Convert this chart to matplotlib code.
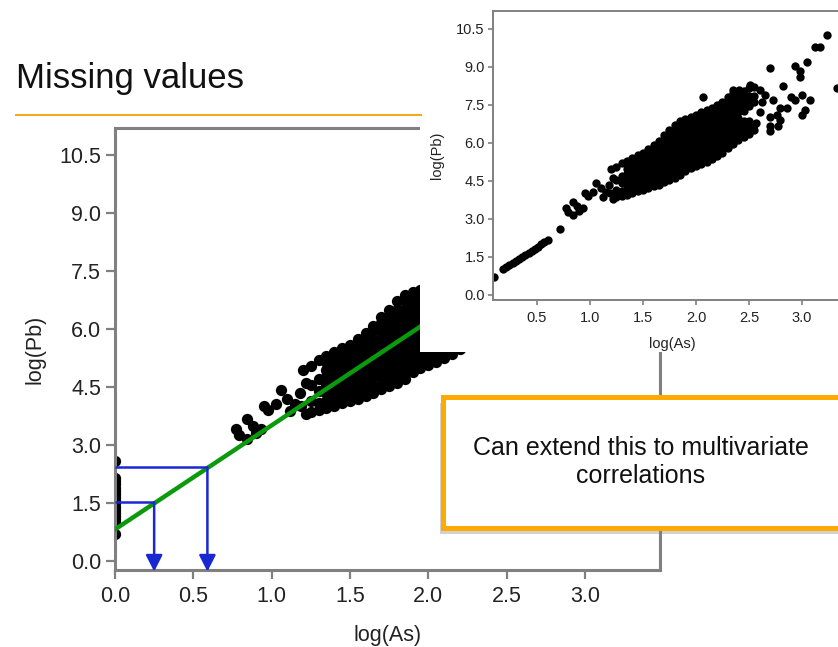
import numpy as np
import matplotlib.pyplot as plt
from matplotlib.patches import Rectangle
from matplotlib.lines import Line2D
import matplotlib.patheffects as pe

plt.rcParams['font.family'] = ['Liberation Sans', 'DejaVu Sans']

# points with low As (these are the ones treated as missing in the big panel)
low_as = [0.09, 0.18, 0.21, 0.24, 0.27, 0.30, 0.33, 0.36, 0.39, 0.42, 0.45,
          0.48, 0.51, 0.54, 0.57, 0.60, 0.72]
low_pb = [0.70, 1.00, 1.08, 1.16, 1.25, 1.33, 1.41, 1.49, 1.58, 1.66, 1.74,
          1.82, 1.90, 1.99, 2.07, 2.15, 2.60]

# small group between the low line and the main cloud
mid_as = [0.77, 0.79, 0.84, 0.84, 0.88, 0.93, 0.90, 0.95, 0.98, 1.03, 1.06,
          1.10, 1.12, 1.15, 1.19, 1.22, 1.18, 1.22, 1.20]
mid_pb = [3.42, 3.25, 3.67, 3.15, 3.50, 3.42, 3.30, 4.00, 3.90, 4.07, 4.42,
          4.20, 3.87, 4.05, 4.00, 3.80, 4.35, 4.60, 4.95]

# dense cloud: Pb values read per As column
cloud = {
    1.25: [3.85, 4.15, 4.55, 5.05],
    1.30: [3.90, 4.10, 4.40, 4.70, 5.20],
    1.35: [3.95, 4.15, 4.35, 4.55, 4.75, 4.95, 5.15, 5.30],
    1.40: [4.02, 4.12, 4.32, 4.52, 4.72, 4.92, 5.12, 5.32, 5.40],
    1.45: [4.08, 4.28, 4.48, 4.68, 4.88, 5.08, 5.28, 5.50],
    1.50: [4.15, 4.25, 4.45, 4.65, 4.85, 5.05, 5.25, 5.45, 5.60],
    1.55: [4.20, 4.40, 4.60, 4.80, 5.00, 5.20, 5.40, 5.60, 5.75],
    1.60: [4.28, 4.38, 4.58, 4.78, 4.98, 5.18, 5.38, 5.58, 5.78, 5.90],
    1.65: [4.35, 4.55, 4.75, 4.95, 5.15, 5.35, 5.55, 5.75, 5.95, 6.08],
    1.70: [4.45, 4.55, 4.75, 4.95, 5.15, 5.35, 5.55, 5.75, 5.95, 6.15, 6.30],
    1.75: [4.52, 4.72, 4.92, 5.12, 5.32, 5.52, 5.72, 5.92, 6.12, 6.32, 6.50],
    1.80: [4.60, 4.70, 4.90, 5.10, 5.30, 5.50, 5.70, 5.90, 6.10, 6.30, 6.50,
           6.72],
    1.85: [4.72, 4.92, 5.12, 5.32, 5.52, 5.72, 5.92, 6.12, 6.32, 6.52, 6.72,
           6.88],
    1.90: [4.88, 4.98, 5.18, 5.38, 5.58, 5.78, 5.98, 6.18, 6.38, 6.58, 6.78,
           6.95],
    1.95: [5.00, 5.20, 5.40, 5.60, 5.80, 6.00, 6.20, 6.40, 6.60, 6.80, 7.02],
    2.00: [5.08, 5.18, 5.38, 5.58, 5.78, 5.98, 6.18, 6.38, 6.58, 6.78, 6.98,
           7.10],
    2.05: [5.15, 5.35, 5.55, 5.75, 5.95, 6.15, 6.35, 6.55, 6.75, 6.95, 7.20],
    2.10: [5.25, 5.35, 5.55, 5.75, 5.95, 6.15, 6.35, 6.55, 6.75, 6.95, 7.15,
           7.28],
    2.15: [5.35, 5.55, 5.75, 5.95, 6.15, 6.35, 6.55, 6.75, 6.95, 7.15, 7.38],
    2.20: [5.48, 5.58, 5.78, 5.98, 6.18, 6.38, 6.58, 6.78, 6.98, 7.18, 7.38,
           7.50],
    2.25: [5.60, 5.80, 6.00, 6.20, 6.40, 6.60, 6.80, 7.00, 7.20, 7.40, 7.62],
    2.30: [5.78, 5.88, 6.08, 6.28, 6.48, 6.68, 6.88, 7.08, 7.28, 7.48, 7.68,
           7.80],
    2.35: [5.95, 6.15, 6.35, 6.55, 6.75, 6.95, 7.15, 7.35, 7.55, 7.75, 7.95],
    2.40: [6.10, 6.20, 6.40, 6.60, 6.80, 7.00, 7.20, 7.40, 7.60, 7.80, 8.02],
    2.45: [6.25, 6.45, 6.65, 6.85, 7.25, 7.45, 7.65, 7.85, 8.05],
    2.50: [6.35, 6.45, 6.65, 6.85, 7.45, 7.65, 7.85, 8.15],
    2.55: [6.50, 6.70, 7.60, 7.85, 8.20],
}

# scattered points at high As
high_as = [2.07, 2.35, 2.41, 2.51, 2.60, 2.60, 2.57, 2.62, 2.65, 2.70, 2.82,
           2.90, 2.93, 2.73, 2.79, 2.86, 2.70, 2.76, 2.70, 2.77, 2.70, 2.79,
           2.93, 3.05, 2.98, 2.98, 3.00, 3.08, 3.03, 3.00, 3.12, 3.17, 3.24,
           3.33]
high_pb = [7.82, 8.10, 8.10, 8.30, 8.10, 7.20, 6.80, 7.60, 7.90, 8.97, 8.23,
           7.83, 7.70, 7.70, 7.38, 7.38, 7.03, 7.10, 6.65, 6.65, 6.45, 6.90,
           9.05, 9.20, 8.82, 8.62, 7.90, 7.70, 7.30, 7.10, 9.80, 9.80, 10.28,
           8.17]

# regression line and the two imputed values
fit_intercept = 0.82
fit_slope = 2.69
imputed_pb = [1.52, 2.43]
imputed_as = [0.25, 0.59]

As = np.array(low_as + mid_as + [c for c, v in cloud.items() for _ in v] + high_as)
Pb = np.array(low_pb + mid_pb + [y for v in cloud.values() for y in v] + high_pb)
As_main = np.where(As < 0.75, 0.0, As)   # missing As shown at 0

ticks_x = [0.0, 0.5, 1.0, 1.5, 2.0, 2.5, 3.0]
ticks_y = [0.0, 1.5, 3.0, 4.5, 6.0, 7.5, 9.0, 10.5]

W, H = 838, 647
fig = plt.figure(figsize=(W / 100, H / 100), dpi=100)
fig.patch.set_facecolor('white')

spine_c = '#808080'
blue = '#1a28d2'

# ---- big panel ----
ax = fig.add_axes([115 / W, 1 - 570 / H, 545 / W, 442 / H])
ax.set_zorder(1)
ax.scatter(As_main, Pb, s=66, c='black', linewidths=0, zorder=2)
xs = np.array([0.0, 3.4])
ax.plot(xs, fit_intercept + fit_slope * xs, color='#0b9a0b', lw=3.2, zorder=3)
for xa, yp in zip(imputed_as, imputed_pb):
    ax.plot([0, xa], [yp, yp], color=blue, lw=1.8, zorder=4, solid_capstyle='butt')
    ax.annotate('', xy=(xa, -0.27), xytext=(xa, yp),
                arrowprops=dict(arrowstyle='-|>,head_length=0.55,head_width=0.28',
                                mutation_scale=18, color=blue, lw=1.8,
                                shrinkA=0, shrinkB=0),
                zorder=4, annotation_clip=False)
ax.set_xlim(0, 3.48)
ax.set_ylim(-0.23, 11.2)
ax.set_xticks(ticks_x)
ax.set_yticks(ticks_y)
ax.set_xticklabels([f'{t:.1f}' for t in ticks_x])
ax.set_yticklabels([f'{t:.1f}' for t in ticks_y])
for s in ax.spines.values():
    s.set_color(spine_c)
    s.set_linewidth(2.2)
ax.tick_params(direction='out', length=6.5, width=1.6, color=spine_c,
               labelsize=15.5, labelcolor='#222222')
ax.tick_params(axis='x', pad=5)
ax.tick_params(axis='y', pad=3.5)
ax.set_xlabel('log(As)', fontsize=15.5, color='#222222')
ax.set_ylabel('log(Pb)', fontsize=15.5, color='#222222')
ax.xaxis.label.set_va('center')
ax.yaxis.label.set_va('center')
ax.xaxis.set_label_coords(0.5, (570 - 635) / 442)
ax.yaxis.set_label_coords((35 - 115) / 545, 0.5)

# white backdrop of the pasted inset
fig.add_artist(Rectangle((420 / W, 1 - 352 / H), 1 - 420 / W, 352 / H,
                         transform=fig.transFigure, fc='white', ec='none', zorder=2))

# ---- inset ----
ins = fig.add_axes([493 / W, 1 - 300 / H, 362 / W, 289 / H])
ins.set_zorder(3)
ins.scatter(As, Pb, s=36, c='black', linewidths=0, zorder=2)
ins.set_xlim(0.085, 3.5)
ins.set_ylim(-0.21, 11.21)
ins.set_xticks(ticks_x[1:])
ins.set_yticks(ticks_y)
ins.set_xticklabels([f'{t:.1f}' for t in ticks_x[1:]])
ins.set_yticklabels([f'{t:.1f}' for t in ticks_y])
for s in ins.spines.values():
    s.set_color(spine_c)
    s.set_linewidth(1.4)
ins.tick_params(direction='out', length=3.5, width=1.2, color=spine_c,
                labelsize=10.5, labelcolor='#222222', pad=2.5)
ins.tick_params(axis='x', pad=4.5)
ins.set_xlabel('log(As)', fontsize=10.5, color='#222222')
ins.set_ylabel('log(Pb)', fontsize=10.5, color='#222222')
ins.xaxis.label.set_va('center')
ins.yaxis.label.set_va('center')
ins.xaxis.set_label_coords((672 - 493) / 362, (300 - 344) / 289)
ins.yaxis.set_label_coords((437 - 493) / 362, 0.5)

# ---- title and rule ----
fig.text(16 / W, 1 - 88 / H, 'Missing values', fontsize=25, color='#111111',
         va='baseline', ha='left')
fig.add_artist(Line2D([16 / W, 421 / W], [1 - 115 / H, 1 - 115 / H],
                      transform=fig.transFigure, color='#F7A823', lw=1.5))

# ---- call-out box ----
box = Rectangle((443 / W, 1 - 528 / H), 420 / W, 131 / H,
                transform=fig.transFigure, fc='white', ec='#FFAA00', lw=3.6,
                zorder=4)
box.set_path_effects([pe.SimplePatchShadow(offset=(-2, -4), shadow_rgbFace='0.5',
                                           alpha=0.35), pe.Normal()])
fig.add_artist(box)
fig.text(641 / W, 1 - 462 / H, 'Can extend this to multivariate\ncorrelations',
         fontsize=18, ha='center', va='center', linespacing=1.2,
         color='#111111', zorder=5)

fig.savefig('out.png', dpi=100, facecolor='white')
